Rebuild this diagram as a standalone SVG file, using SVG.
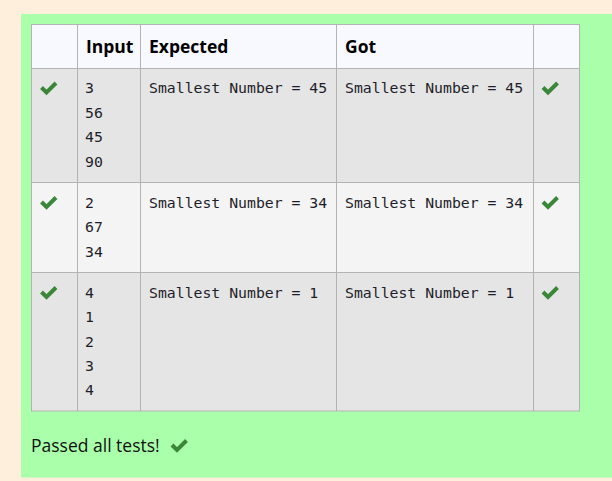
<svg xmlns="http://www.w3.org/2000/svg" width="612" height="481" viewBox="0 0 612 481">
<style>
.hd{font-family:"Open Sans","Noto Sans",sans-serif;font-weight:bold;font-size:17.5px;fill:#000}
.mono{font-family:"DejaVu Sans Mono",monospace;font-size:14.8px;fill:#1e1e2a}
.grid{stroke:#b3b3b3;stroke-width:1;fill:none}
.ok{fill:none;stroke:#3a873a;stroke-width:4}
.msg{font-family:"Open Sans","Noto Sans",sans-serif;font-size:17.5px;fill:#111}
</style>
<defs>
<path id="chk" class="ok" d="M0,0 L5,5 L14.5,-4.5"/>
</defs>
<rect x="0" y="0" width="612" height="481" fill="#fdefdc"/>
<rect x="21" y="14" width="591" height="463.5" fill="#aaffaa"/>
<g id="table">
<rect x="31.5" y="24.5" width="548" height="44" fill="#f8f9ff"/>
<rect x="31.5" y="68.5" width="548" height="114" fill="#e5e5e5"/>
<rect x="31.5" y="182.5" width="548" height="90" fill="#f4f4f4"/>
<rect x="31.5" y="272.5" width="548" height="138.5" fill="#e5e5e5"/>
<g class="grid">
<rect x="31.5" y="24.5" width="548" height="386.5"/>
<line x1="31.5" y1="68.5" x2="579.5" y2="68.5"/>
<line x1="31.5" y1="182.5" x2="579.5" y2="182.5"/>
<line x1="31.5" y1="272.5" x2="579.5" y2="272.5"/>
<line x1="77.5" y1="24.5" x2="77.5" y2="411"/>
<line x1="140.5" y1="24.5" x2="140.5" y2="411"/>
<line x1="336.5" y1="24.5" x2="336.5" y2="411"/>
<line x1="533.5" y1="24.5" x2="533.5" y2="411"/>
</g>
</g>
<g id="header">
<text class="hd" x="86" y="53">Input</text>
<text class="hd" x="149" y="53">Expected</text>
<text class="hd" x="345" y="53">Got</text>
</g>
<g id="row1">
<use href="#chk" x="41.5" y="87.5"/>
<text class="mono" x="85" y="93.3">3</text>
<text class="mono" x="85" y="117.7">56</text>
<text class="mono" x="85" y="142.1">45</text>
<text class="mono" x="85" y="166.5">90</text>
<text class="mono" x="149" y="93.3">Smallest Number = 45</text>
<text class="mono" x="345" y="93.3">Smallest Number = 45</text>
<use href="#chk" x="543" y="87.5"/>
</g>
<g id="row2">
<use href="#chk" x="41.5" y="202"/>
<text class="mono" x="85" y="207.8">2</text>
<text class="mono" x="85" y="232.2">67</text>
<text class="mono" x="85" y="256.6">34</text>
<text class="mono" x="149" y="207.8">Smallest Number = 34</text>
<text class="mono" x="345" y="207.8">Smallest Number = 34</text>
<use href="#chk" x="543" y="202"/>
</g>
<g id="row3">
<use href="#chk" x="41.5" y="292"/>
<text class="mono" x="85" y="297.7">4</text>
<text class="mono" x="85" y="322.1">1</text>
<text class="mono" x="85" y="346.5">2</text>
<text class="mono" x="85" y="370.9">3</text>
<text class="mono" x="85" y="395.3">4</text>
<text class="mono" x="149" y="297.7">Smallest Number = 1</text>
<text class="mono" x="345" y="297.7">Smallest Number = 1</text>
<use href="#chk" x="543" y="292"/>
</g>
<g id="footer">
<text class="msg" x="31" y="452.3">Passed all tests!</text>
<use href="#chk" x="172" y="445"/>
</g>
</svg>
